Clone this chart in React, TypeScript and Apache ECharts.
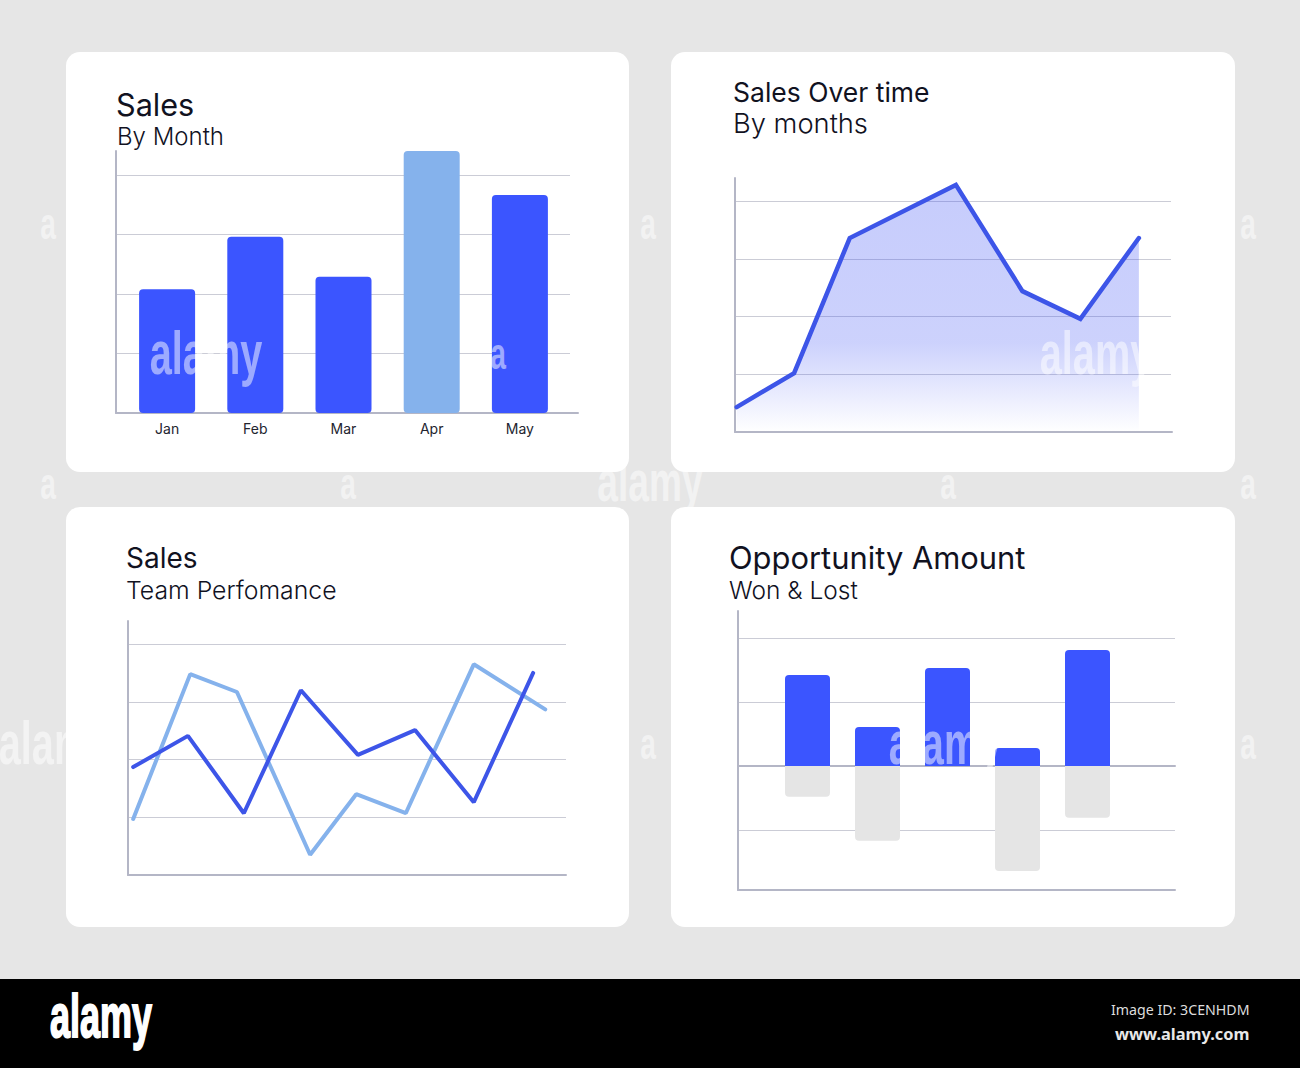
import React, { useEffect, useRef } from "react";
import * as echarts from "echarts";

const BLUE = "#3b55ff";
const LINE_BLUE = "#3d55e8";
const LIGHT = "#85b2ec";
const GREY = "#e6e6e6";
const AXIS = "#b4b6c6";
const GRIDLINE = "#cbccd6";
const FONT = "Inter, 'Noto Sans', sans-serif";
const LOGO_FONT = "'Liberation Sans', sans-serif";

const months = ["Jan", "Feb", "Mar", "Apr", "May"];
const monthSales = [2.08, 2.96, 2.29, 4.4, 3.66];

const overTime = [
  [0.03, 0.43], [1.03, 1.02], [2.0, 3.36], [3.85, 4.28], [5.01, 2.44], [6.02, 1.96], [7.04, 3.36],
];

const teamA = [
  [0.09, 1.87], [1.04, 2.41], [2.01, 1.07], [3.0, 3.2], [3.99, 2.08], [4.98, 2.51], [6.0, 1.26], [7.03, 3.5],
];
const teamB = [
  [0.09, 0.97], [1.08, 3.48], [1.89, 3.17], [3.16, 0.35], [3.96, 1.4], [4.82, 1.07], [6.0, 3.65], [7.24, 2.87],
];

const deals = ["A", "B", "C", "D", "E"];
const won = [1.42, 0.61, 1.53, 0.28, 1.81];
const lost = [-0.48, -1.17, 0, -1.64, -0.81];

const titles = [
  { text: "Sales", x: 116, y: 89, size: 30.6, weight: 400 },
  { text: "By Month", x: 117, y: 124, size: 24, weight: 300 },
  { text: "Sales Over time", x: 733, y: 78, size: 26.5, weight: 400 },
  { text: "By months", x: 733, y: 110, size: 27.3, weight: 300 },
  { text: "Sales", x: 126, y: 544, size: 28, weight: 400 },
  { text: "Team Perfomance", x: 126, y: 577, size: 24.8, weight: 300 },
  { text: "Opportunity Amount", x: 729, y: 542, size: 30.9, weight: 400 },
  { text: "Won & Lost", x: 729, y: 577, size: 24.5, weight: 300 },
];

const cards = [
  [66, 52, 563, 420],
  [671, 52, 564, 420],
  [66, 507, 563, 420],
  [671, 507, 564, 420],
];

const marks = [
  ["alamy", 206, 353, 62], ["alamy", 1096, 353, 62], ["alamy", 650, 481, 58],
  ["alamy", 55, 743, 62], ["alamy", 945, 743, 62],
  ["a", 48, 224, 44], ["a", 648, 224, 44], ["a", 1248, 224, 44],
  ["a", 48, 484, 44], ["a", 348, 484, 44], ["a", 948, 484, 44], ["a", 1248, 484, 44],
  ["a", 648, 744, 44], ["a", 1248, 744, 44], ["a", 498, 354, 44],
] as const;

const grid = (l: number, r: number, t: number, b: number) => ({
  left: l, width: r - l, top: t, height: b - t, containLabel: false,
});
const hiddenValue = (gridIndex: number, min: number, max: number) => ({
  type: "value", gridIndex, min, max, show: false,
});
const frameAxes = (gridIndex: number) => {
  const line = { show: true, onZero: false, lineStyle: { color: AXIS, width: 2 } };
  const common = {
    type: "value", gridIndex, min: 0, max: 1,
    axisLine: line, axisTick: { show: false }, axisLabel: { show: false }, splitLine: { show: false },
  };
  return { x: { ...common }, y: { ...common } };
};
const gridY = (gridIndex: number, min: number, max: number) => ({
  type: "value", gridIndex, min, max, interval: 1,
  axisLine: { show: false }, axisTick: { show: false }, axisLabel: { show: false },
  splitLine: { show: true, showMinLine: false, showMaxLine: false, lineStyle: { color: GRIDLINE, width: 1 } },
});

export default function App() {
  const ref = useRef<HTMLDivElement>(null);
  useEffect(() => {
    document.body.style.margin = "0";
    const chart = echarts.init(ref.current!, null, { renderer: "svg" });
    const f1 = frameAxes(0), f2 = frameAxes(3), f3 = frameAxes(5), f4 = frameAxes(7);
    const option: any = {
      animation: false,
      backgroundColor: GREY,
      title: titles.map((t) => ({
        text: t.text, left: t.x, top: t.y, padding: 0,
        textStyle: { fontFamily: FONT, fontSize: t.size, fontWeight: t.weight, color: "#11121f" },
      })),
      grid: [
        grid(116, 578, 151, 413), grid(116, 570, 151, 413), grid(123, 564, 151, 413),
        grid(735, 1172, 178, 432), grid(735, 1171, 178, 432),
        grid(128, 566, 621, 875), grid(128, 566, 621, 875),
        grid(738, 1175, 611, 890), grid(738, 1175, 611, 894), grid(772.5, 1122.5, 611, 894),
      ],
      xAxis: [
        f1.x,
        hiddenValue(1, 0, 1),
        {
          type: "category", gridIndex: 2, data: months,
          axisLine: { show: false }, axisTick: { show: false },
          axisLabel: { color: "#23242f", fontSize: 14, fontFamily: FONT, margin: 8 },
        },
        f2.x,
        hiddenValue(4, 0, 7.6),
        f3.x,
        hiddenValue(6, 0, 7.6),
        f4.x,
        {
          type: "value", gridIndex: 8, min: 0, max: 1,
          axisLine: { show: true, onZero: true, lineStyle: { color: AXIS, width: 2 } },
          axisTick: { show: false }, axisLabel: { show: false }, splitLine: { show: false },
        },
        { type: "category", gridIndex: 9, data: deals, show: false },
      ],
      yAxis: [
        f1.y,
        gridY(1, 0, 4.4),
        hiddenValue(2, 0, 4.4),
        f2.y,
        gridY(4, 0, 4.4),
        f3.y,
        gridY(6, 0, 4.4),
        f4.y,
        gridY(8, -2, 2.42),
        hiddenValue(9, -2, 2.42),
      ],
      series: [
        {
          type: "bar", name: "Sales", xAxisIndex: 2, yAxisIndex: 2, barWidth: 56,
          data: monthSales.map((v, i) => ({
            value: v,
            itemStyle: { color: months[i] === "Apr" ? LIGHT : BLUE, borderRadius: 4 },
          })),
        },
        {
          type: "line", name: "Sales Over time", xAxisIndex: 4, yAxisIndex: 4, data: overTime,
          symbol: "none", lineStyle: { color: LINE_BLUE, width: 4.5, cap: "round", join: "miter" },
          areaStyle: {
            opacity: 1,
            color: new echarts.graphic.LinearGradient(0, 0, 0, 1, [
              { offset: 0, color: "rgba(60,80,245,0.29)" },
              { offset: 0.64, color: "rgba(60,80,245,0.26)" },
              { offset: 1, color: "rgba(60,80,245,0)" },
            ]),
          },
        },
        {
          type: "line", name: "Team B", xAxisIndex: 6, yAxisIndex: 6, data: teamB,
          symbol: "none", lineStyle: { color: LIGHT, width: 4, cap: "round" },
        },
        {
          type: "line", name: "Team A", xAxisIndex: 6, yAxisIndex: 6, data: teamA,
          symbol: "none", lineStyle: { color: LINE_BLUE, width: 4, cap: "round" },
        },
        {
          type: "bar", name: "Won", xAxisIndex: 9, yAxisIndex: 9, stack: "deal", barWidth: 45, data: won,
          itemStyle: { color: BLUE, borderRadius: [4, 4, 0, 0] },
        },
        {
          type: "bar", name: "Lost", xAxisIndex: 9, yAxisIndex: 9, stack: "deal", barWidth: 45, data: lost,
          itemStyle: { color: "#e5e5e5", borderRadius: [0, 0, 4, 4] },
        },
      ],
      graphic: { elements: [
        ...cards.map(([x, y, width, height]) => ({
          type: "rect", z: -10, silent: true, shape: { x, y, width, height, r: 14 }, style: { fill: "#ffffff" },
        })),
        { type: "rect", z: 200, shape: { x: 0, y: 979, width: 1300, height: 89 }, style: { fill: "#000000" } },
        {
          type: "text", z: 201, x: 50, y: 985, scaleX: 0.58,
          style: { text: "alamy", fill: "#ffffff", stroke: "#ffffff", lineWidth: 2, font: `bold 62px ${LOGO_FONT}` },
        },
        {
          type: "text", z: 201, x: 1111, y: 1002,
          style: { text: "Image ID: 3CENHDM", fill: "#dddddd", font: "14.2px 'Noto Sans', sans-serif" },
        },
        {
          type: "text", z: 201, x: 1115, y: 1025,
          style: { text: "www.alamy.com", fill: "#e8e8e8", font: "bold 16.4px 'Noto Sans', sans-serif" },
        },
        ...marks.map(([text, x, y, size]) => ({
          type: "text", z: 100, silent: true, x, y, scaleX: 0.64,
          style: {
            text, fill: "rgba(255,255,255,0.5)",
            align: "center", verticalAlign: "middle",
            font: `bold ${size}px ${LOGO_FONT}`,
          },
        })),
      ] },
    };
    chart.setOption(option);
    return () => chart.dispose();
  }, []);
  return <div ref={ref} style={{ position: "absolute", left: 0, top: 0, width: 1300, height: 1068 }} />;
}
